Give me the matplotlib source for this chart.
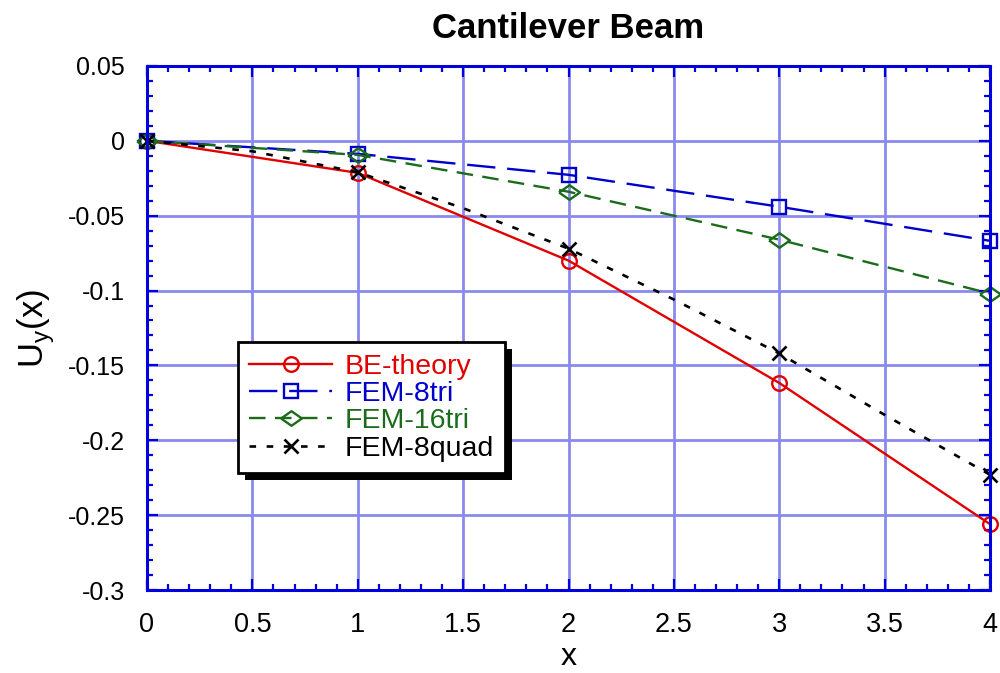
import matplotlib

matplotlib.use("Agg")
import matplotlib.pyplot as plt
from matplotlib.patches import Rectangle
from matplotlib.ticker import MultipleLocator
from matplotlib.transforms import IdentityTransform

plt.rcParams["font.family"] = ["Liberation Sans", "DejaVu Sans"]

# Node positions along the beam
x_nodes = [0, 1, 2, 3, 4]
x_quad = [0, 0.5, 1, 1.5, 2, 2.5, 3, 3.5, 4]

# Vertical displacement U_y(x)
be_theory = [0.0, -0.0214, -0.080, -0.1617, -0.256]
fem_8tri = [0.0, -0.0087, -0.0227, -0.044, -0.0668]
fem_16tri = [0.0, -0.0094, -0.034, -0.066, -0.102]
fem_8quad = [0.0, -0.007, -0.021, -0.045, -0.072, -0.106, -0.142, -0.183, -0.223]

series_labels = ["BE-theory", "FEM-8tri", "FEM-16tri", "FEM-8quad"]
x_ticks = [0, 0.5, 1, 1.5, 2, 2.5, 3, 3.5, 4]
x_tick_labels = ["0", "0.5", "1", "1.5", "2", "2.5", "3", "3.5", "4"]
y_ticks = [0.05, 0, -0.05, -0.1, -0.15, -0.2, -0.25, -0.3]
y_tick_labels = ["0.05", "0", "-0.05", "-0.1", "-0.15", "-0.2", "-0.25", "-0.3"]

RED = "#E00000"
BLUE = "#0000CC"
GREEN = "#1A6B1A"
AXIS_BLUE = "#0000DD"
GRID = "#8A8AEE"

# flat diamond, a bit wider than tall
flat_diamond = [(-1, 0), (0, 0.7), (1, 0), (0, -0.7), (-1, 0)]

fig = plt.figure(figsize=(10, 6.73), dpi=100)
ax = fig.add_axes([0.147, 0.1233, 0.843, 0.7787])

ax.plot(x_nodes, be_theory, color=RED, lw=1.7, marker="o", ms=10.5,
        mfc="none", mec=RED, mew=1.7, label=series_labels[0], zorder=5,
        clip_on=False)
ax.plot(x_nodes, fem_8tri, color=BLUE, lw=1.7, ls=(0, (12, 5)), marker="s",
        ms=10.5, mfc="none", mec=BLUE, mew=1.7, label=series_labels[1],
        zorder=5, clip_on=False)
ax.plot(x_nodes, fem_16tri, color=GREEN, lw=1.7, ls=(0, (7, 4)),
        marker=flat_diamond, ms=15, mfc="none", mec=GREEN, mew=1.7,
        label=series_labels[2], zorder=5, clip_on=False)
ax.plot(x_quad, fem_8quad, color="black", lw=1.9, ls=(0, (2.5, 4)), marker="x",
        ms=10.5, mew=1.9, markevery=2, label=series_labels[3], zorder=5,
        clip_on=False)

ax.set_xlim(0, 4)
ax.set_ylim(-0.3, 0.05)
ax.set_xticks(x_ticks)
ax.set_xticklabels(x_tick_labels)
ax.set_yticks(y_ticks)
ax.set_yticklabels(y_tick_labels)
ax.xaxis.set_minor_locator(MultipleLocator(0.1))
ax.yaxis.set_minor_locator(MultipleLocator(0.01))

ax.grid(True, which="major", color=GRID, lw=2.0)
ax.set_axisbelow(True)

for sp in ax.spines.values():
    sp.set_color(AXIS_BLUE)
    sp.set_linewidth(2.2)
    sp.set_zorder(6)

ax.tick_params(which="both", direction="in", top=True, right=True,
               color=AXIS_BLUE, width=1.6)
ax.tick_params(which="major", length=8)
ax.tick_params(which="minor", length=4)
ax.tick_params(axis="x", which="major", labelsize=19.5, pad=16)
ax.tick_params(axis="y", which="major", labelsize=18, pad=16)

ax.set_title("Cantilever Beam", fontsize=25, fontweight="bold", pad=20)
ax.set_xlabel("x", fontsize=23, labelpad=3)
ax.set_ylabel(r"U$_\mathregular{y}$(x)", fontsize=25, labelpad=8)

leg = ax.legend(loc="upper left", bbox_to_anchor=(0.108, 0.473),
                fontsize=20.5, frameon=True, fancybox=False, framealpha=1,
                edgecolor="black", handlelength=2.9, handletextpad=0.45,
                borderpad=0.4, labelspacing=0.05, borderaxespad=0)
leg.get_frame().set_linewidth(2.0)
leg.set_zorder(10)
for txt, col in zip(leg.get_texts(), [RED, BLUE, GREEN, "black"]):
    txt.set_color(col)

# black drop shadow behind the legend box
fig.canvas.draw()
bb = leg.get_window_extent()
shadow = Rectangle((bb.x0 + 7, bb.y0 - 7), bb.width, bb.height,
                   transform=IdentityTransform(), facecolor="black",
                   edgecolor="none", zorder=9, clip_on=False)
ax.add_artist(shadow)

fig.savefig("out.png", dpi=100)
